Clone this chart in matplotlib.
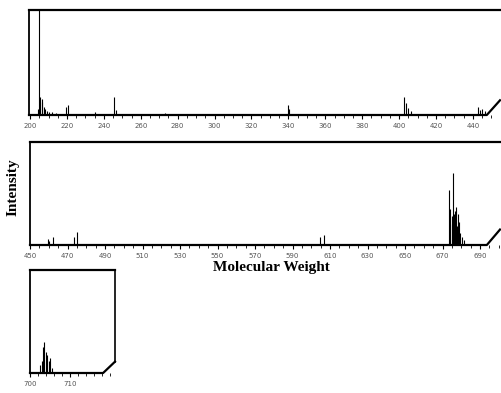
import numpy as np
import matplotlib
matplotlib.use("Agg")
import matplotlib.pyplot as plt
from matplotlib.ticker import MultipleLocator

# peak lists (mass, relative intensity %)
top_mass = [204.5, 205.0, 205.6, 206.2, 206.6, 207.3, 208.0, 209.0, 210.5, 212.0, 214.0,
            219.2, 220.5, 235.0, 245.5, 246.3, 273.0, 339.8, 340.6,
            402.6, 403.5, 404.8, 406.5, 442.8, 443.6, 445.0, 446.4]
top_int = [6, 100, 17, 12, 15, 8, 6, 4, 3, 3, 2,
           8, 10, 3, 17, 5, 2, 10, 6,
           17, 11, 7, 4, 8, 5, 6, 4]

mid_mass = [459.4, 460.3, 462.0, 473.2, 475.3, 604.4, 606.5,
            673.3, 673.8, 674.2, 674.8, 675.4, 675.9, 676.3, 676.8, 677.4, 677.9,
            678.1, 678.6, 679.5, 680.4, 681.2]
mid_int = [6, 4, 8, 8, 13, 8, 10,
           53, 20, 35, 28, 70, 25, 30, 33, 37, 18,
           30, 22, 12, 8, 5]

bot_mass = [702.5, 702.9, 703.3, 703.6, 703.9, 704.3, 704.7, 705.0, 705.4]
bot_int = [8, 12, 25, 30, 20, 17, 12, 15, 5]

top_ticks = list(range(200, 441, 20))
mid_ticks = list(range(450, 691, 20))
bot_ticks = [700, 710]

W, H = 501, 393
fig = plt.figure(figsize=(W / 100, H / 100), dpi=100)


def panel(px_left, px_top, px_right, px_base, xlim, masses, ints, ticks, minor,
          base_end, chamfer_y, right_wall=False):
    ax = fig.add_axes([px_left / W, (H - px_base) / H,
                       (px_right - px_left) / W, (px_base - px_top) / H])
    ax.vlines(masses, 0, ints, color='black', lw=0.8)
    ax.set_xlim(*xlim)
    ax.set_ylim(0, 100)
    for s in ax.spines.values():
        s.set_visible(False)
    ax.set_yticks([])
    ax.set_xticks(ticks)
    ax.xaxis.set_minor_locator(MultipleLocator(minor))
    ax.tick_params(axis='x', which='major', direction='out', length=3, width=0.8,
                   labelsize=5, labelcolor='#555555', pad=2.5)
    ax.tick_params(axis='x', which='minor', direction='out', length=2, width=0.6)
    # chart-recorder style frame with a chamfered bottom right corner
    kw = dict(transform=ax.transAxes, color='black', clip_on=False)
    ax.plot([0, 0], [0, 1], lw=1.3, **kw)
    ax.plot([0, 1], [1, 1], lw=1.6, **kw)
    ax.plot([0, base_end, 1], [0, 0, chamfer_y], lw=1.6, **kw)
    if right_wall:
        ax.plot([1, 1], [chamfer_y, 1], lw=1.2, **kw)
    return ax


panel(29, 10, 500, 115, (199.4, 454.7), top_mass, top_int, top_ticks, 5, 0.972, 0.14)
panel(30, 142, 500, 245, (452.6, 700.6), mid_mass, mid_int, mid_ticks, 5, 0.972, 0.15)
panel(30, 270, 115, 373, (700, 721.25), bot_mass, bot_int, bot_ticks, 2, 0.86, 0.11,
      right_wall=True)

fig.text(13 / W, 1 - 187 / H, 'Intensity', rotation=90, ha='center', va='center',
         fontsize=11, fontweight='bold', family=['Liberation Serif'])
fig.text(271 / W, 1 - 268 / H, 'Molecular Weight', ha='center', va='center',
         fontsize=11, fontweight='bold', family=['Liberation Serif'])

fig.savefig('out.png', dpi=100)
